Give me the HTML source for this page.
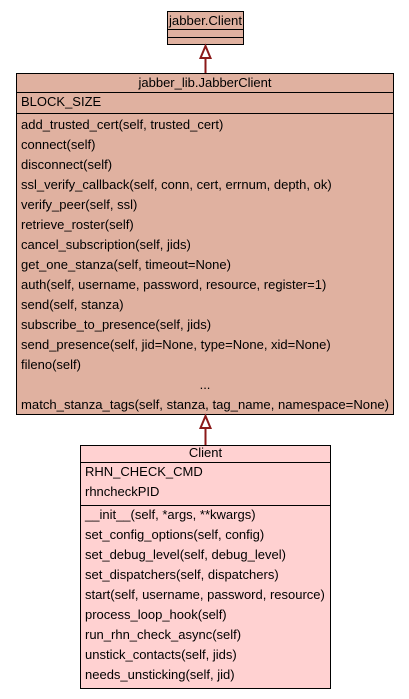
<!DOCTYPE html>
<html><head><meta charset="utf-8"><style>html,body{margin:0;padding:0;background:#fff}svg{display:block}</style></head>
<body>
<svg width="409" height="699" xmlns="http://www.w3.org/2000/svg" font-family="Liberation Sans, sans-serif" font-size="13" fill="#000">
<rect x="0" y="0" width="409" height="699" fill="#fff"/>
<rect x="167.5" y="11.5" width="76" height="33" fill="#e0b1a0" stroke="#000"/>
<line x1="167.5" y1="29.5" x2="243.5" y2="29.5" stroke="#000"/>
<line x1="167.5" y1="37.5" x2="243.5" y2="37.5" stroke="#000"/>
<text x="205.5" y="25" text-anchor="middle" textLength="73" lengthAdjust="spacingAndGlyphs">jabber.Client</text>
<line x1="205.5" y1="58" x2="205.5" y2="73" stroke="#8b1a1a" stroke-width="2"/>
<polygon points="205.5,46 200.5,58 210.5,58" fill="#fff" stroke="#8b1a1a" stroke-width="2"/>
<rect x="16.5" y="73.5" width="377" height="341" fill="#e0b1a0" stroke="#000"/>
<line x1="16.5" y1="92.5" x2="393.5" y2="92.5" stroke="#000"/>
<line x1="16.5" y1="113.5" x2="393.5" y2="113.5" stroke="#000"/>
<text x="205" y="87" text-anchor="middle">jabber_lib.JabberClient</text>
<text x="21" y="106">BLOCK_SIZE</text>
<text x="21" y="129">add_trusted_cert(self, trusted_cert)</text>
<text x="21" y="149">connect(self)</text>
<text x="21" y="169">disconnect(self)</text>
<text x="21" y="189">ssl_verify_callback(self, conn, cert, errnum, depth, ok)</text>
<text x="21" y="209">verify_peer(self, ssl)</text>
<text x="21" y="229">retrieve_roster(self)</text>
<text x="21" y="249">cancel_subscription(self, jids)</text>
<text x="21" y="269">get_one_stanza(self, timeout=None)</text>
<text x="21" y="289">auth(self, username, password, resource, register=1)</text>
<text x="21" y="309">send(self, stanza)</text>
<text x="21" y="329">subscribe_to_presence(self, jids)</text>
<text x="21" y="349">send_presence(self, jid=None, type=None, xid=None)</text>
<text x="21" y="369">fileno(self)</text>
<text x="205" y="389" text-anchor="middle">...</text>
<text x="21" y="409" textLength="368" lengthAdjust="spacingAndGlyphs">match_stanza_tags(self, stanza, tag_name, namespace=None)</text>
<line x1="205.5" y1="428" x2="205.5" y2="445" stroke="#8b1a1a" stroke-width="2"/>
<polygon points="205.5,416 200.5,428 210.5,428" fill="#fff" stroke="#8b1a1a" stroke-width="2"/>
<rect x="80.5" y="445.5" width="250" height="243" fill="#ffd1d1" stroke="#000"/>
<line x1="80.5" y1="462.5" x2="330.5" y2="462.5" stroke="#000"/>
<line x1="80.5" y1="505.5" x2="330.5" y2="505.5" stroke="#000"/>
<text x="205.5" y="457" text-anchor="middle">Client</text>
<text x="85" y="476">RHN_CHECK_CMD</text>
<text x="85" y="496">rhncheckPID</text>
<text x="85" y="519">__init__(self, *args, **kwargs)</text>
<text x="85" y="539">set_config_options(self, config)</text>
<text x="85" y="559">set_debug_level(self, debug_level)</text>
<text x="85" y="579">set_dispatchers(self, dispatchers)</text>
<text x="85" y="599">start(self, username, password, resource)</text>
<text x="85" y="619">process_loop_hook(self)</text>
<text x="85" y="639">run_rhn_check_async(self)</text>
<text x="85" y="659">unstick_contacts(self, jids)</text>
<text x="85" y="679">needs_unsticking(self, jid)</text>
</svg>
</body></html>
